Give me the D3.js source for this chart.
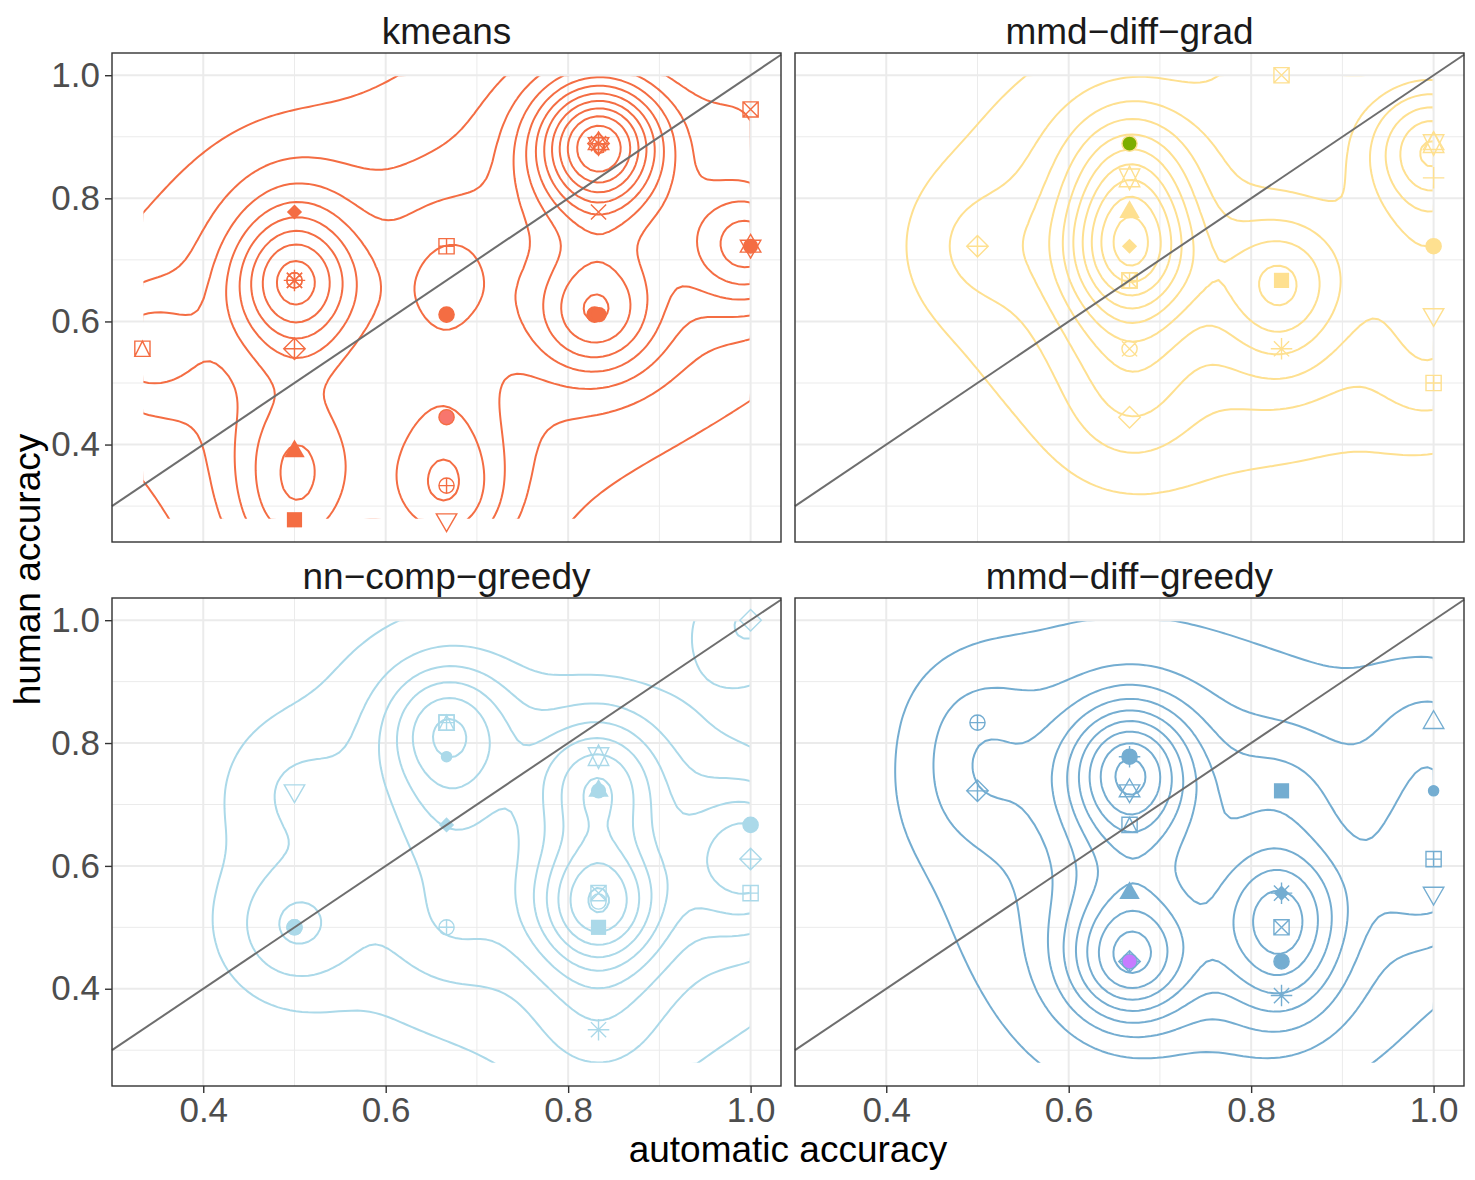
<!DOCTYPE html>
<html><head><meta charset="utf-8">
<script src="https://cdn.jsdelivr.net/npm/d3@7"></script>
<style>body{margin:0;background:#fff} text{font-family:"Liberation Sans",Arial,Helvetica,sans-serif}</style>
</head><body>
<svg id="chart" width="1475" height="1180"></svg>
<script>
// ---------------- data ----------------
const methods = ["kmeans", "mmd-diff-grad", "nn-comp-greedy", "mmd-diff-greedy"];
const methodLabels = ["kmeans", "mmd\u2212diff\u2212grad", "nn\u2212comp\u2212greedy", "mmd\u2212diff\u2212greedy"];
const methodColors = ["#F46D43", "#FEE090", "#ABD9E9", "#74ADD1"];
const methodFills = ["#F8766D", "#7CAE00", "#00BFC4", "#C77CFF"];
const xTicks = [0.4, 0.6, 0.8, 1.0];
const yTicks = [0.4, 0.6, 0.8, 1.0];
const xMinor = [0.3, 0.5, 0.7, 0.9];
const yMinor = [0.3, 0.5, 0.7, 0.9];
// two-component kernel: weights and bandwidths h = [x, y] (sd = h / 4)
const kernelWeights = [0.2375, 0.4];
const kernelBandwidths = [[0.193, 0.285], [0.56, 0.83]];

// points: [automatic accuracy, human accuracy, shape (R pch), rows (overplotted count)]
const kmeansPts = [
  [0.3333, 0.5556, 14, 2],
  [0.5, 0.7778, 18, 1],
  [0.5, 0.6667, 8, 2], [0.5, 0.6667, 10, 2], [0.5, 0.6667, 13, 1],
  [0.5, 0.5556, 9, 1],
  [0.5, 0.3889, 17, 2],
  [0.5, 0.2778, 15, 2],
  [0.6667, 0.7222, 12, 1],
  [0.6667, 0.6111, 19, 1],
  [0.6667, 0.4444, 21, 1],
  [0.6667, 0.3333, 10, 2],
  [0.6667, 0.2778, 6, 1],
  [0.8333, 0.8889, 2, 2], [0.8333, 0.8889, 6, 2], [0.8333, 0.8889, 8, 2], [0.8333, 0.8889, 9, 2],
  [0.8333, 0.7778, 4, 1],
  [0.829, 0.6111, 19, 2], [0.834, 0.6111, 16, 2],
  [1.0, 0.9444, 7, 1],
  [1.0, 0.7222, 2, 1], [1.0, 0.7222, 6, 1], [1.0, 0.7222, 16, 2]
];
const gradPts = [
  [0.5, 0.7222, 9, 1],
  [0.6667, 0.8889, 21, 1],
  [0.6667, 0.8333, 11, 2],
  [0.6667, 0.7778, 17, 1],
  [0.6667, 0.7222, 18, 4],
  [0.6667, 0.6667, 7, 1], [0.6667, 0.6667, 12, 1],
  [0.6667, 0.5556, 13, 1],
  [0.6667, 0.4444, 5, 1],
  [0.8333, 1.0, 7, 1],
  [0.8333, 0.6667, 15, 3],
  [0.8333, 0.5556, 8, 1],
  [1.0, 0.8889, 2, 2], [1.0, 0.8889, 11, 2],
  [1.0, 0.8333, 3, 1],
  [1.0, 0.7222, 19, 1],
  [1.0, 0.6111, 6, 1],
  [1.0, 0.5, 12, 1]
];
const nnPts = [
  [0.5, 0.7222, 6, 1],
  [0.5, 0.5, 19, 1], [0.5, 0.5, 1, 1],
  [0.6667, 0.8333, 12, 1], [0.6667, 0.8333, 14, 2],
  [0.6667, 0.7778, 20, 1],
  [0.6667, 0.6667, 18, 1],
  [0.6667, 0.5, 10, 1],
  [0.8333, 0.7778, 11, 1],
  [0.8333, 0.7222, 17, 2], [0.8333, 0.7222, 16, 1],
  [0.8333, 0.5556, 7, 3], [0.8333, 0.542, 1, 1],
  [0.8333, 0.5, 15, 2],
  [0.8333, 0.3333, 8, 1],
  [1.0, 1.0, 5, 2],
  [1.0, 0.6667, 19, 1],
  [1.0, 0.6111, 9, 2],
  [1.0, 0.5556, 12, 1]
];
const greedyPts = [
  [0.5, 0.8333, 10, 1],
  [0.5, 0.7222, 9, 1],
  [0.6667, 0.7778, 19, 2], [0.6667, 0.7778, 3, 2],
  [0.6667, 0.7222, 2, 1], [0.6667, 0.7222, 6, 1],
  [0.6667, 0.6667, 14, 1],
  [0.6667, 0.5556, 17, 1],
  [0.6667, 0.4444, 9, 2], [0.6667, 0.4444, 21, 3],
  [0.8333, 0.7222, 15, 1],
  [0.8333, 0.5556, 8, 1], [0.8333, 0.5556, 18, 1],
  [0.8333, 0.5, 7, 2],
  [0.8333, 0.4444, 19, 1],
  [0.8333, 0.3889, 8, 1],
  [1.0, 0.8333, 2, 1],
  [1.0, 0.7222, 20, 1],
  [1.0, 0.6111, 12, 1],
  [1.0, 0.5556, 6, 1]
];
const facetPoints = [kmeansPts, gradPts, nnPts, greedyPts];

// ---------------- layout ----------------
const svg = d3.select("#chart");
const panelXs = [[112, 781], [795, 1464]];
const panelYs = [[53, 542], [598, 1086]];
const FONT = "Liberation Sans, Arial, sans-serif";

const allX = facetPoints.flat().map(d => d[0]);
const allY = facetPoints.flat().map(d => d[1]);
const xLim = d3.extent(allX), yLim = d3.extent(allY);
const expand = (l) => { const e = (l[1] - l[0]) * 0.05; return [l[0] - e, l[1] + e]; };
const xDom = expand(xLim), yDom = expand(yLim);

// ---------------- 2d kernel density (count scale) on a 100x100 grid ----------------
const NG = 100;
const dnorm = t => Math.exp(-0.5 * t * t) / Math.sqrt(2 * Math.PI);
const gx = d3.range(NG).map(i => xLim[0] + i * (xLim[1] - xLim[0]) / (NG - 1));
const gy = d3.range(NG).map(j => yLim[0] + j * (yLim[1] - yLim[0]) / (NG - 1));
const comps = kernelBandwidths.map((h, m) => ({ w: kernelWeights[m], sx: h[0] / 4, sy: h[1] / 4 }));
const dens = facetPoints.map(pts => {
  const z = new Float64Array(NG * NG);
  for (let j = 0; j < NG; j++) for (let i = 0; i < NG; i++) {
    let s = 0;
    for (const p of pts) for (const c of comps)
      s += p[3] * c.w * dnorm((gx[i] - p[0]) / c.sx) * dnorm((gy[j] - p[1]) / c.sy) / (c.sx * c.sy);
    z[j * NG + i] = s;
  }
  return z;
});
function rPretty(lo, up, ndiv) {
  const h = 1.5, h5 = 0.5 + 1.5 * h;
  const cell = (up - lo) / ndiv;
  const base = Math.pow(10, Math.floor(Math.log10(cell)));
  let unit = base, ns;
  if ((ns = 2 * base) - cell < h * (cell - unit)) { unit = ns;
    if ((ns = 5 * base) - cell < h5 * (cell - unit)) { unit = ns;
      if ((ns = 10 * base) - cell < h * (cell - unit)) unit = ns; } }
  const a = Math.floor(lo / unit + 1e-7), b = Math.ceil(up / unit - 1e-7);
  return d3.range(a, b + 1).map(k => +(k * unit).toFixed(12));
}
let zMin = Infinity, zMax = -Infinity;
dens.forEach(z => z.forEach(v => { if (v < zMin) zMin = v; if (v > zMax) zMax = v; }));
const breaks = rPretty(zMin, zMax, 10).filter(b => b > 0);

// ---------------- R point symbols ----------------
function drawPch(g, shape, cx, cy, col, fillCol) {
  const u = 7.6, lw = 1.4, S2 = Math.SQRT2;
  const TRC0 = 1.55512030155621, TRC1 = 1.3467736870886, TRC2 = 0.777560150778;
  const gg = g.append("g").attr("transform", `translate(${cx},${cy})`);
  const strokeP = (d) => gg.append("path").attr("d", d).attr("fill", "none").attr("stroke", col).attr("stroke-width", lw);
  const fillP = (d, f, withStroke) => gg.append("path").attr("d", d).attr("fill", f)
      .attr("stroke", withStroke ? col : "none").attr("stroke-width", lw);
  const circ = r => `M${-r},0A${r},${r} 0 1,0 ${r},0A${r},${r} 0 1,0 ${-r},0Z`;
  const sq = a => `M${-a},${-a}H${a}V${a}H${-a}Z`;
  const plus = a => `M${-a},0H${a}M0,${-a}V${a}`;
  const cross = a => `M${-a},${-a}L${a},${a}M${-a},${a}L${a},${-a}`;
  const diam = a => `M0,${-a}L${a},0L0,${a}L${-a},0Z`;
  const r0 = TRC0 * u, yc0 = TRC2 * u, xc0 = TRC1 * u;
  const triUp = `M0,${-r0}L${xc0},${yc0}L${-xc0},${yc0}Z`;
  const triDn = `M0,${r0}L${xc0},${-yc0}L${-xc0},${-yc0}Z`;
  switch (shape) {
    case 1: strokeP(circ(u)); break;
    case 2: strokeP(triUp); break;
    case 3: strokeP(plus(S2 * u)); break;
    case 4: strokeP(cross(u)); break;
    case 5: strokeP(diam(S2 * u)); break;
    case 6: strokeP(triDn); break;
    case 7: strokeP(sq(u) + cross(u)); break;
    case 8: strokeP(cross(u) + plus(S2 * u)); break;
    case 9: strokeP(diam(S2 * u) + plus(S2 * u)); break;
    case 10: strokeP(circ(u) + plus(u)); break;
    case 11: { const yc = 0.5 * (yc0 + r0);
      strokeP(`M0,${r0}L${xc0},${-yc}L${-xc0},${-yc}ZM0,${-r0}L${xc0},${yc}L${-xc0},${yc}Z`); break; }
    case 12: strokeP(sq(u) + plus(u)); break;
    case 13: strokeP(circ(u) + cross(u)); break;
    case 14: strokeP(sq(u) + `M0,${-u}L${u},${u}L${-u},${u}Z`); break;
    case 15: fillP(sq(u), col, false); break;
    case 16: fillP(circ(u), col, false); break;
    case 17: fillP(triUp, col, false); break;
    case 18: fillP(diam(u), col, false); break;
    case 19: fillP(circ(u), col, true); break;
    case 20: fillP(circ(u * 2 / 3), col, true); break;
    case 21: fillP(circ(u), fillCol, true); break;
  }
}

// ---------------- panels ----------------
const defs = svg.append("defs");
methods.forEach((m, f) => {
  const col = f % 2, row = Math.floor(f / 2);
  const [x0, x1] = panelXs[col], [y0, y1] = panelYs[row];
  const xs = d3.scaleLinear().domain(xDom).range([x0, x1]);
  const ys = d3.scaleLinear().domain(yDom).range([y1, y0]);
  const g = svg.append("g");

  g.append("rect").attr("x", x0).attr("y", y0).attr("width", x1 - x0).attr("height", y1 - y0).attr("fill", "#fff");
  g.selectAll(".gxm").data(xMinor.filter(v => v > xDom[0] && v < xDom[1])).join("line")
    .attr("x1", d => xs(d)).attr("x2", d => xs(d)).attr("y1", y0).attr("y2", y1)
    .attr("stroke", "#EBEBEB").attr("stroke-width", 1);
  g.selectAll(".gym").data(yMinor.filter(v => v > yDom[0] && v < yDom[1])).join("line")
    .attr("y1", d => ys(d)).attr("y2", d => ys(d)).attr("x1", x0).attr("x2", x1)
    .attr("stroke", "#EBEBEB").attr("stroke-width", 1);
  g.selectAll(".gx").data(xTicks).join("line")
    .attr("x1", d => xs(d)).attr("x2", d => xs(d)).attr("y1", y0).attr("y2", y1)
    .attr("stroke", "#EBEBEB").attr("stroke-width", 2);
  g.selectAll(".gy").data(yTicks).join("line")
    .attr("y1", d => ys(d)).attr("y2", d => ys(d)).attr("x1", x0).attr("x2", x1)
    .attr("stroke", "#EBEBEB").attr("stroke-width", 2);

  // contours: zero-padded grid, clipped to the density window so edges stay open
  const P = NG + 2;
  const vals = new Float64Array(P * P);
  const z = dens[f];
  for (let j = 0; j < NG; j++) for (let i = 0; i < NG; i++) vals[(j + 1) * P + (i + 1)] = z[j * NG + i];
  const cont = d3.contours().size([P, P]).thresholds(breaks)(vals);
  const dxg = (xLim[1] - xLim[0]) / (NG - 1), dyg = (yLim[1] - yLim[0]) / (NG - 1);
  const proj = d3.geoTransform({ point: function (a, b) {
    this.stream.point(xs(xLim[0] + (a - 1.5) * dxg), ys(yLim[0] + (b - 1.5) * dyg)); } });
  const path = d3.geoPath(proj);
  const cid = "clip" + f;
  defs.append("clipPath").attr("id", cid).append("rect")
    .attr("x", xs(xLim[0]) + 1).attr("y", ys(yLim[1]) + 1)
    .attr("width", xs(xLim[1]) - xs(xLim[0]) - 2).attr("height", ys(yLim[0]) - ys(yLim[1]) - 2);
  g.append("g").attr("clip-path", `url(#${cid})`).selectAll("path").data(cont).join("path")
    .attr("d", path).attr("fill", "none").attr("stroke", methodColors[f]).attr("stroke-width", 2)
    .attr("stroke-linejoin", "round");

  const pg = g.append("g");
  facetPoints[f].forEach(d => drawPch(pg, d[2], xs(d[0]), ys(d[1]), methodColors[f], methodFills[f]));

  g.append("line").attr("x1", xs(xDom[0])).attr("y1", ys(xDom[0])).attr("x2", xs(xDom[1])).attr("y2", ys(xDom[1]))
    .attr("stroke", "#6E6E6E").attr("stroke-width", 2);
  g.append("rect").attr("x", x0).attr("y", y0).attr("width", x1 - x0).attr("height", y1 - y0)
    .attr("fill", "none").attr("stroke", "#333333").attr("stroke-width", 1.4);

  svg.append("text").attr("x", (x0 + x1) / 2).attr("y", y0 - 9).attr("text-anchor", "middle")
    .attr("font-size", 37).attr("fill", "#1A1A1A").text(methodLabels[f]);

  if (col === 0) {
    const ax = svg.append("g").attr("transform", `translate(${x0},0)`)
      .call(d3.axisLeft(ys).tickValues(yTicks).tickSize(7).tickPadding(5).tickFormat(d3.format(".1f")));
    ax.select(".domain").remove();
    ax.selectAll(".tick line").attr("stroke", "#333333").attr("stroke-width", 1.4);
    ax.selectAll(".tick text").attr("font-size", 35).attr("fill", "#4D4D4D").attr("font-family", FONT);
  }
  if (row === 1) {
    const ax = svg.append("g").attr("transform", `translate(0,${y1})`)
      .call(d3.axisBottom(xs).tickValues(xTicks).tickSize(7).tickPadding(4).tickFormat(d3.format(".1f")));
    ax.select(".domain").remove();
    ax.selectAll(".tick line").attr("stroke", "#333333").attr("stroke-width", 1.4);
    ax.selectAll(".tick text").attr("font-size", 35).attr("fill", "#4D4D4D").attr("font-family", FONT);
  }
});

svg.append("text").attr("x", (112 + 1464) / 2).attr("y", 1162).attr("text-anchor", "middle")
  .attr("font-size", 37).attr("fill", "#000").text("automatic accuracy");
svg.append("text").attr("transform", `translate(40,${(53 + 1086) / 2}) rotate(-90)`).attr("text-anchor", "middle")
  .attr("font-size", 37).attr("fill", "#000").text("human accuracy");
</script>
</body></html>
